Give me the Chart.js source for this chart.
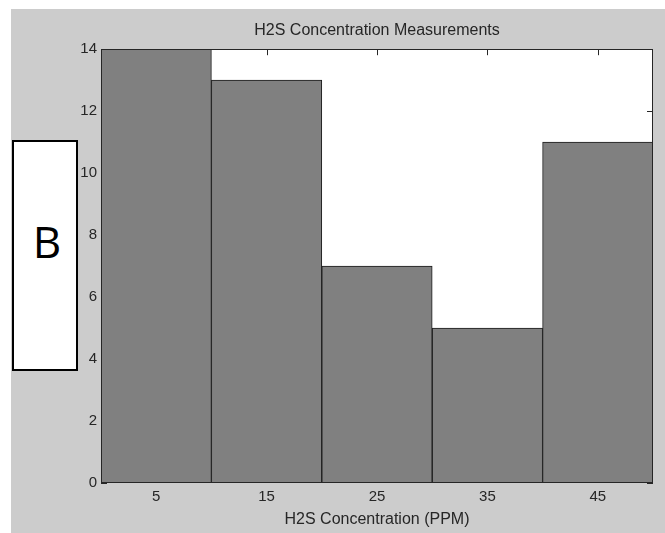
<!DOCTYPE html>
<html>
<head>
<meta charset="utf-8">
<script src="https://cdn.jsdelivr.net/npm/chart.js@4"></script>
<style>
  html, body { margin: 0; padding: 0; background: #fff; }
  #wrap { position: relative; width: 665px; height: 533px; }
  #histChart { position: absolute; left: 0; top: 0; }
  #panelTag {
    position: absolute; left: 12px; top: 140px; width: 66px; height: 231px;
    box-sizing: border-box; border: 2px solid #000; background: #fff;
  }
  #panelTag span {
    position: absolute; left: 4px; right: 0; top: 77px; text-align: center;
    font: 44px "Open Sans", sans-serif; line-height: 44px; color: #000;
  }
</style>
</head>
<body>
<div id="wrap">
  <canvas id="histChart" width="665" height="533"></canvas>
  <div id="panelTag"><span>B</span></div>
</div>
<script>
  // Histogram data
  const binLabels = ['5', '15', '25', '35', '45'];
  const binCounts = [14, 13, 7, 5, 11];
  const yTicks = [0, 2, 4, 6, 8, 10, 12, 14];

  const textColor = '#262626';

  // Figure background, white axes box, MATLAB style inward ticks and frame
  const axesBox = {
    id: 'axesBox',
    beforeDraw(chart) {
      const { ctx, chartArea: a } = chart;
      ctx.save();
      ctx.fillStyle = '#fff';
      ctx.fillRect(0, 0, chart.width, chart.height);
      ctx.fillStyle = '#cccccc';
      ctx.fillRect(11, 9, chart.width - 11, chart.height - 9);
      ctx.fillStyle = '#fff';
      ctx.fillRect(a.left, a.top, a.right - a.left, a.bottom - a.top);
      ctx.restore();
    },
    beforeDatasetsDraw(chart) {
      const { ctx, chartArea: a, scales } = chart;
      ctx.save();
      ctx.strokeStyle = '#262626';
      ctx.lineWidth = 1;
      ctx.beginPath();
      scales.y.ticks.forEach((t, i) => {
        const y = Math.round(scales.y.getPixelForTick(i)) + 0.5;
        ctx.moveTo(a.left, y); ctx.lineTo(a.left + 6, y);
        ctx.moveTo(a.right, y); ctx.lineTo(a.right - 6, y);
      });
      scales.x.ticks.forEach((t, i) => {
        const x = Math.round(scales.x.getPixelForTick(i)) + 0.5;
        ctx.moveTo(x, a.bottom); ctx.lineTo(x, a.bottom - 6);
        ctx.moveTo(x, a.top); ctx.lineTo(x, a.top + 6);
      });
      ctx.stroke();
      ctx.restore();
    },
    afterDraw(chart) {
      const { ctx, chartArea: a } = chart;
      ctx.save();
      ctx.strokeStyle = '#262626';
      ctx.lineWidth = 1;
      ctx.strokeRect(Math.round(a.left) + 0.5, Math.round(a.top) + 0.5,
        Math.round(a.right - a.left) - 1, Math.round(a.bottom - a.top) - 1);
      ctx.restore();
    }
  };

  const ctx = document.getElementById('histChart').getContext('2d');
  const histChart = new Chart(ctx, {
    type: 'bar',
    data: {
      labels: binLabels,
      datasets: [{
        data: binCounts,
        backgroundColor: '#808080',
        borderColor: '#1a1a1a',
        borderWidth: 1,
        barPercentage: 1,
        categoryPercentage: 1
      }]
    },
    options: {
      responsive: false,
      animation: false,
      devicePixelRatio: 1,
      layout: { padding: { left: 0, right: 12, top: 0, bottom: 0 } },
      plugins: {
        legend: { display: false },
        tooltip: { enabled: false },
        title: {
          display: true,
          fullSize: false,
          text: 'H2S Concentration Measurements',
          color: textColor,
          font: { family: '"Liberation Sans", Arial, sans-serif', size: 16, weight: 'normal' },
          padding: { top: 21, bottom: 9 }
        }
      },
      scales: {
        x: {
          grid: { display: false, drawTicks: false },
          border: { display: false },
          ticks: {
            color: textColor,
            padding: 5,
            font: { family: '"Liberation Sans", Arial, sans-serif', size: 15 }
          },
          title: {
            display: true,
            text: 'H2S Concentration (PPM)',
            color: textColor,
            font: { family: '"Liberation Sans", Arial, sans-serif', size: 16 },
            padding: { top: 0, bottom: 4 }
          },
          afterFit(scale) { scale.height = 50; }
        },
        y: {
          min: 0,
          max: 14,
          afterBuildTicks(scale) { scale.ticks = yTicks.map(v => ({ value: v })); },
          grid: { display: false, drawTicks: false },
          border: { display: false },
          ticks: {
            color: textColor,
            padding: 4,
            font: { family: '"Liberation Sans", Arial, sans-serif', size: 15 }
          },
          afterFit(scale) { scale.width = 101; }
        }
      }
    },
    plugins: [axesBox]
  });
</script>
</body>
</html>
